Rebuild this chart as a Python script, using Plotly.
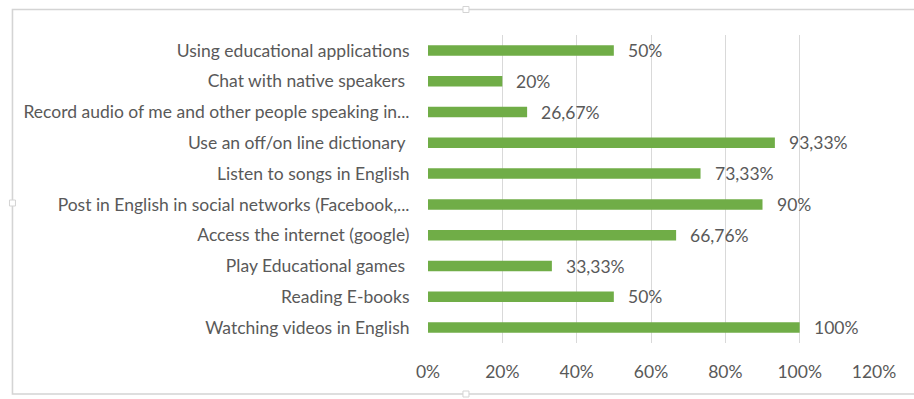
import plotly.graph_objects as go

# Activities, listed top to bottom as shown on the chart
activities = [
    "Using educational applications",
    "Chat with native speakers\u00a0",
    "Record audio of me and other people speaking in...",
    "Use an off/on line dictionary\u00a0",
    "Listen to songs in English",
    "Post in English in social networks (Facebook,...",
    "Access the internet (google)",
    "Play Educational games\u00a0",
    "Reading E-books",
    "Watching videos in English",
]
percentages = [50, 20, 26.67, 93.33, 73.33, 90, 66.76, 33.33, 50, 100]
x_ticks = [0, 20, 40, 60, 80, 100, 120]
x_tick_labels = ["0%", "20%", "40%", "60%", "80%", "100%", "120%"]

BAR_COLOR = "#70AD47"
TEXT_COLOR = "#595959"
GRID_COLOR = "#D9D9D9"
FONT = "Lato"
FONT_SIZE = 17.5

# Plot-area geometry in pixels
W, H = 914, 399
L, R, T, B = 428, 39.5, 35, 56
PW, PH = W - L - R, H - T - B


def px_x(px):
    return (px - L) / PW


def px_y(py):
    return (H - B - py) / PH


def pct_label(v):
    s = f"{v:.2f}".rstrip("0").rstrip(".")
    return s.replace(".", ",") + "%"


fig = go.Figure(
    go.Bar(
        x=percentages,
        y=activities,
        orientation="h",
        marker=dict(color=BAR_COLOR, line=dict(width=0)),
        hoverinfo="skip",
    )
)

# Value labels just past the end of each bar
for cat, v in zip(activities, percentages):
    fig.add_annotation(
        x=v, y=cat, xref="x", yref="y",
        text=pct_label(v), showarrow=False,
        xanchor="left", yanchor="middle", xshift=12,
        font=dict(family=FONT, size=FONT_SIZE, color=TEXT_COLOR),
    )

# Chart-area outline
fig.add_shape(
    type="rect", xref="paper", yref="paper",
    x0=px_x(12), x1=px_x(920), y0=px_y(394), y1=px_y(9.5),
    line=dict(color="#D4D4D4", width=1.6),
    layer="below",
)

# Small resize handles on the outline
for hx, hy in [(466, 9.5), (12, 203), (466, 394)]:
    fig.add_shape(
        type="rect", xref="paper", yref="paper",
        x0=px_x(hx - 3), x1=px_x(hx + 3), y0=px_y(hy + 3), y1=px_y(hy - 3),
        line=dict(color="#D4D4D4", width=1), fillcolor="white",
        layer="above",
    )

fig.update_layout(
    width=W,
    height=H,
    margin=dict(l=L, r=R, t=T, b=B, pad=0),
    paper_bgcolor="white",
    plot_bgcolor="white",
    bargap=0.66,
    showlegend=False,
    font=dict(family=FONT, size=FONT_SIZE, color=TEXT_COLOR),
    xaxis=dict(
        range=[0, 120],
        tickvals=x_ticks,
        ticktext=x_tick_labels,
        showgrid=True,
        gridcolor=GRID_COLOR,
        gridwidth=1.3,
        zeroline=False,
        showline=False,
        ticks="outside",
        ticklen=13,
        tickcolor="rgba(0,0,0,0)",
        tickfont=dict(family=FONT, size=FONT_SIZE, color=TEXT_COLOR),
        fixedrange=True,
    ),
    yaxis=dict(
        autorange="reversed",
        showgrid=False,
        zeroline=False,
        showline=False,
        ticks="outside",
        ticklen=14,
        tickcolor="rgba(0,0,0,0)",
        tickfont=dict(family=FONT, size=FONT_SIZE, color=TEXT_COLOR),
        fixedrange=True,
    ),
)

fig.write_html("out.html", config={"displayModeBar": False})
